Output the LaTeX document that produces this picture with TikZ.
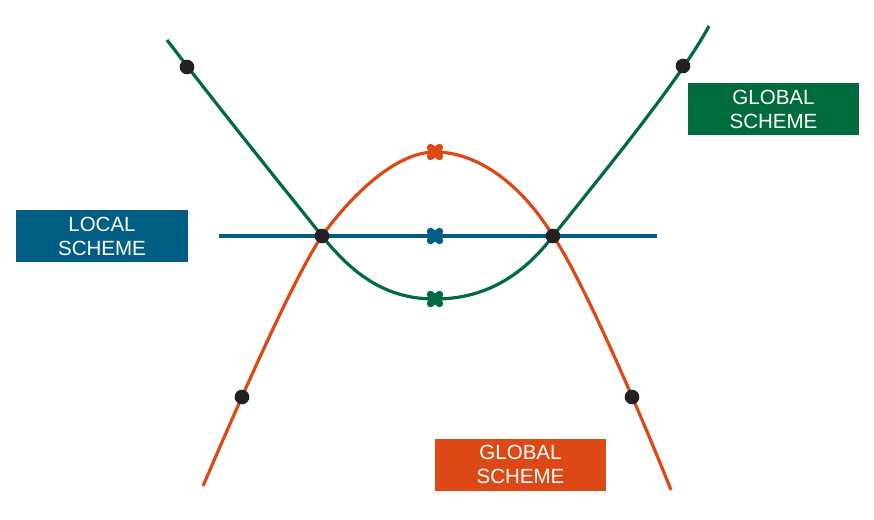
\documentclass[tikz,border=0pt]{standalone}
\usepackage{fontspec}
\setmainfont{Liberation Sans}
\definecolor{cgreen}{RGB}{0,107,60}
\definecolor{corange}{RGB}{221,73,22}
\definecolor{cblue}{RGB}{0,94,132}
\definecolor{cdot}{RGB}{34,34,34}
\tikzset{
  curve/.style={line width=2.4pt},
  dotnode/.style={circle,fill=cdot,inner sep=0pt,minimum size=11pt},
  labelbox/.style={fill=#1,text=white,minimum width=128.5pt,minimum height=39pt,inner sep=0pt,align=center,font=\fontsize{15.4}{18}\selectfont},
  xmark/.style={line width=5.6pt,line cap=round,#1}
}
\begin{document}
\begin{tikzpicture}[x=0.75pt,y=-0.75pt]
\useasboundingbox (0,0) rectangle (874,520);
% key points
\coordinate (gA) at (167,40);
\coordinate (gB) at (709,26);
\coordinate (oA) at (203,486);
\coordinate (oB) at (671,490);
\coordinate (bA) at (219,236);
\coordinate (bB) at (657,236);
\coordinate (L) at (322,236);
\coordinate (R) at (553,236);
\coordinate (gmin) at (435,299);
\coordinate (omax) at (435,152);
\coordinate (bmid) at (435,236);
% blue line
\draw[cblue,line width=3pt] (bA) -- (bB);
% green curve
\draw[cgreen,curve] (gA) .. controls (230,122) and (290,196) .. (L)
  .. controls (358,281) and (392,299) .. (gmin)
  .. controls (478,299) and (518,282) .. (R)
  .. controls (600,177) and (680,80) .. (gB);
% orange curve
\draw[corange,curve] (oA) .. controls (240,400) and (295,275) .. (L)
  .. controls (350,197) and (395,152) .. (omax)
  .. controls (478,152) and (522,185) .. (R)
  .. controls (580,275) and (635,400) .. (oB);
% dots
\node[dotnode] (d1) at (187,67) {};
\node[dotnode] (d2) at (683,66) {};
\node[dotnode] (d3) at (242,397) {};
\node[dotnode] (d4) at (632,397) {};
\node[dotnode] (d5) at (L) {};
\node[dotnode] (d6) at (R) {};
% crosses
\foreach \p/\c in {omax/corange, bmid/cblue, gmin/cgreen}{
  \draw[xmark=\c] ([shift={(-4.5,-4.5)}]\p) -- ([shift={(4.5,4.5)}]\p);
  \draw[xmark=\c] ([shift={(-4.5,4.5)}]\p) -- ([shift={(4.5,-4.5)}]\p);
}
% labels
\node[labelbox=cblue] (local) at (102,236) {LOCAL\\SCHEME};
\node[labelbox=cgreen] (gglob) at (773.5,109) {GLOBAL\\SCHEME};
\node[labelbox=corange] (oglob) at (520.5,464.5) {GLOBAL\\SCHEME};
\end{tikzpicture}
\end{document}
